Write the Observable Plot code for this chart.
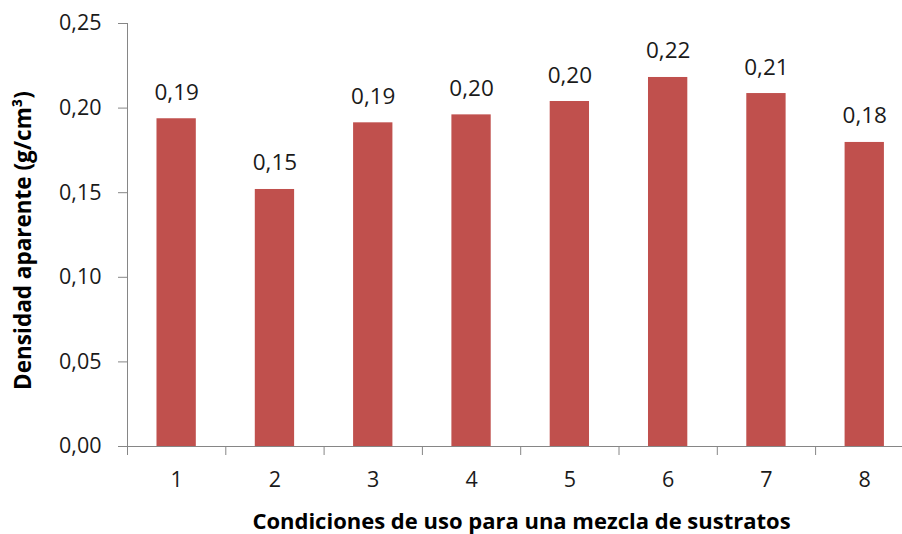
<!DOCTYPE html>
<html>
<head>
<meta charset="utf-8">
<script src="https://cdn.jsdelivr.net/npm/d3@7"></script>
<script src="https://cdn.jsdelivr.net/npm/@observablehq/plot@0.6"></script>
<style>
  html, body { margin: 0; padding: 0; background: #fff; }
  #chart svg { display: block; overflow: hidden; }
</style>
</head>
<body>
<div id="chart"></div>
<script>
// Condiciones de uso (1–8) and apparent density of the substrate mix
const condiciones = [1, 2, 3, 4, 5, 6, 7, 8];
const densidad = [0.1937, 0.1519, 0.1913, 0.1960, 0.2039, 0.2181, 0.2086, 0.1797];
const yTicks = [0, 0.05, 0.10, 0.15, 0.20, 0.25];
const tituloY = "Densidad aparente (g/cm³)";
const tituloX = "Condiciones de uso para una mezcla de sustratos";

const data = condiciones.map((c, i) => ({c, v: densidad[i]}));
const fmt = d => d.toFixed(2).replace(".", ",");
const bounds = d3.range(0.5, condiciones.length + 1, 1);

const axisColor = "#868686";
const textColor = "#1a1a1a";
const font = "Open Sans, Lato, sans-serif";

const chart = Plot.plot({
  width: 902,
  height: 534,
  marginLeft: 127,
  marginRight: 0,
  marginTop: 23,
  marginBottom: 88,
  style: {fontFamily: font, fontSize: "21px", color: textColor, background: "#fff"},
  x: {type: "linear", domain: [0.5, 8.5], range: [127, 913.4]},
  y: {domain: [0, 0.25]},
  marks: [
    Plot.rectY(data, {x1: d => d.c - 0.2, x2: d => d.c + 0.2, y: "v", fill: "#C0504D"}),
    Plot.text(data, {x: "c", y: "v", text: d => fmt(d.v), lineAnchor: "bottom", dy: -19,
      fontSize: 22.5, fill: textColor}),
    Plot.axisY(yTicks, {tickSize: 9, tickPadding: 17, tickFormat: fmt, stroke: axisColor,
      fill: textColor, fontSize: 21.5, label: null}),
    Plot.axisX(bounds, {tickSize: 9, tickFormat: () => "", stroke: axisColor, label: null}),
    Plot.axisX(condiciones, {tickSize: 0, tickPadding: 25, fill: textColor, fontSize: 21.5, label: null}),
    Plot.ruleX([0.5], {stroke: axisColor}),
    Plot.ruleY([0], {stroke: axisColor}),
    Plot.text([tituloY], {frameAnchor: "left", textAnchor: "middle", lineAnchor: "middle",
      dx: -104, dy: 5.5, rotate: -90, fontWeight: "bold", fontSize: 22.5, fill: "#000"}),
    Plot.text([tituloX], {frameAnchor: "bottom", textAnchor: "middle", lineAnchor: "middle",
      dx: 6.5, dy: 75, fontWeight: "bold", fontSize: 22, fill: "#000"})
  ]
});
document.getElementById("chart").append(chart);
</script>
</body>
</html>
